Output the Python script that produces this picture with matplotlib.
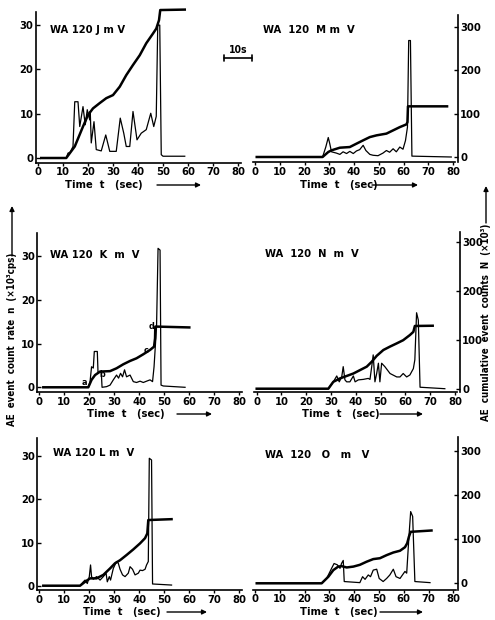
import matplotlib
matplotlib.use("Agg")
import matplotlib.pyplot as plt

plt.rcParams["font.family"] = ["DejaVu Sans"]
plt.rcParams["font.weight"] = "bold"
plt.rcParams["font.stretch"] = "condensed"

# ── Data ─────────────────────────────────────────────────────
# time in sec, count rate n in x10^3 cps, cumulative N in x10^3

J_t = [1.3, 11.3, 12.0, 12.9, 14.0, 14.7, 16.0, 16.7, 18.0, 18.9, 19.7, 20.7, 20.9,
       21.3, 22.4, 23.3, 25.3, 27.1, 28.7, 31.3, 32.9, 34.3, 35.3, 36.7, 38.0, 39.6,
       41.3, 43.3, 45.1, 46.3, 47.3, 47.9, 48.7, 49.3, 50.0, 58.7]
J_n = [0, 0, 1.1, 1.3, 2.6, 12.7, 12.7, 7.1, 11.6, 7.5, 10.9, 8.6, 10.5,
       3.4, 8.2, 1.9, 1.6, 5.2, 1.5, 1.5, 9.0, 5.6, 2.6, 2.6, 10.5, 4.1,
       5.6, 6.4, 10.1, 7.1, 9.4, 30.0, 30.0, 0.75, 0.4, 0.4]
J_ct = [1.3, 11.3, 14.7, 18.0, 20.0, 22.0, 24.7, 27.3, 30.0, 32.7, 35.3, 38.0,
        40.7, 43.3, 46.0, 47.3, 48.4, 48.9, 58.7]
J_N = [0, 0, 26, 71, 97, 112, 124, 135, 142, 161, 187, 210,
       232, 259, 281, 292, 311, 334, 335]

M_t = [0.7, 27.3, 28.6, 29.6, 30.2, 30.9, 32.9, 34.3, 35.6, 37.0, 38.3, 39.7, 41.0,
       42.3, 43.7, 44.8, 46.4, 47.7, 49.7, 51.7, 53.1, 54.4, 55.8, 57.1, 58.5, 59.8,
       60.8, 61.6, 62.1, 62.8, 63.4, 79.3]
M_n = [0, 0, 2.3, 4.5, 3.1, 1.2, 0.9, 0.6, 1.2, 0.8, 1.3, 0.8, 1.4,
       1.7, 2.7, 1.5, 0.6, 0.4, 0.3, 0.9, 1.5, 1.1, 1.9, 1.2, 2.3, 1.8,
       3.8, 6.9, 26.9, 26.9, 0.2, 0]
M_ct = [0.7, 27.3, 29.6, 30.9, 34.3, 38.3, 41.0, 43.7, 46.4, 49.1, 53.1, 55.8,
        58.5, 61.2, 61.6, 61.8, 77.6]
M_N = [0, 0, 11.5, 15.4, 21.5, 23, 30.8, 38.5, 46, 50, 54, 61.5,
       69, 75.4, 80.7, 117, 117]

K_t = [1.6, 19.6, 20.3, 20.9, 21.6, 22.0, 23.2, 23.5, 24.3, 24.8, 25.1, 26.9, 28.3,
       29.6, 30.9, 31.7, 32.5, 33.3, 34.1, 34.9, 36.3, 37.6, 38.9, 40.3, 41.6, 42.9,
       44.3, 45.3, 45.9, 46.4, 46.9, 47.5, 48.3, 48.7, 49.6, 58.3]
K_n = [0, 0, 1.3, 4.7, 4.4, 8.2, 8.2, 3.2, 3.6, 3.4, 0, 0.15, 0.5,
       1.7, 2.8, 2.1, 3.2, 2.4, 4.0, 2.4, 2.8, 1.3, 1.1, 1.4, 1.1, 1.4,
       1.7, 1.3, 4.7, 9.3, 13.9, 31.8, 31.4, 0.5, 0.3, 0]
K_ct = [1.6, 19.6, 20.9, 22.3, 24.3, 28.3, 30.9, 33.6, 36.3, 38.9, 41.6, 44.3,
        45.9, 46.3, 46.4, 60.0]
K_N = [0, 0, 17, 28, 36, 37, 43.5, 52.7, 60.3, 66.4, 75.6, 85.5,
       93, 112, 139, 137]
K_marks = ["a", "b", "c", "d"]
K_mark_t = [17.9, 25.3, 42.7, 45.0]
K_mark_n = [1.1, 3.0, 8.4, 14.0]

N_t = [0, 28.9, 30.9, 32.3, 33.3, 34.3, 34.9, 35.6, 36.3, 37.6, 39.0, 39.7, 41.0,
       43.0, 45.0, 45.7, 46.4, 47.0, 47.7, 48.4, 49.1, 49.7, 50.4, 51.7, 53.8, 56.5,
       57.8, 59.1, 60.5, 61.8, 63.2, 63.8, 64.5, 65.2, 65.9, 75.9]
N_n = [0, 0, 1.4, 2.6, 1.4, 2.4, 4.5, 1.8, 1.4, 1.4, 2.6, 1.4, 1.8,
       1.9, 2.1, 1.9, 4.5, 6.9, 1.4, 3.1, 5.2, 1.4, 5.2, 4.5, 3.1, 2.4,
       2.4, 3.1, 2.4, 2.8, 4.1, 5.9, 15.5, 14.0, 0.3, 0]
N_ct = [0, 28.9, 30.9, 33.6, 36.3, 39.0, 41.7, 44.4, 46.4, 48.4, 51.1, 53.8,
        56.5, 59.1, 61.8, 63.2, 63.8, 71.0]
N_N = [0, 0, 14, 21, 26, 31, 38, 45, 55, 67, 79, 86,
       92.5, 99, 109.5, 116, 128, 128.5]

L_t = [1.6, 16.3, 17.6, 18.3, 19.2, 20.0, 20.5, 20.9, 21.6, 22.9, 24.3, 25.6, 26.7,
       27.2, 28.0, 28.5, 29.6, 30.9, 31.6, 32.3, 33.3, 34.3, 35.6, 36.3, 37.3, 38.3,
       39.6, 40.3, 41.3, 42.3, 42.9, 43.6, 44.0, 44.9, 45.3, 52.9]
L_n = [0, 0, 0.9, 1.3, 0.5, 2.1, 4.8, 2.1, 1.5, 2.1, 1.3, 2.1, 2.9,
       0.9, 2.1, 1.3, 4.0, 5.6, 5.2, 3.8, 2.5, 2.1, 2.9, 4.4, 3.8, 2.5,
       2.9, 3.6, 3.5, 3.8, 4.8, 5.6, 29.5, 29.1, 0.4, 0.15]
L_ct = [1.6, 16.3, 18.3, 20.3, 22.9, 25.6, 28.3, 30.3, 32.3, 34.9, 37.6, 40.3,
        42.3, 43.2, 43.6, 52.9]
L_N = [0, 0, 9, 17, 17, 25, 40, 52, 59, 71, 84, 98,
       110, 121, 152, 154]

O_t = [0.7, 26.9, 28.9, 30.9, 31.9, 33.2, 34.3, 34.9, 35.6, 36.0, 42.3, 43.4, 44.4,
       45.7, 46.6, 47.7, 49.1, 50.1, 51.7, 53.1, 54.4, 55.8, 56.9, 58.5, 60.5, 61.2,
       62.1, 62.8, 63.6, 64.5, 70.6]
O_n = [0, 0, 1.1, 3.4, 4.5, 4.2, 3.4, 4.5, 5.2, 0.4, 0.15, 1.5, 0.9,
       1.9, 1.5, 3.0, 3.2, 1.1, 0.4, 1.1, 1.9, 3.2, 1.5, 1.1, 2.7, 2.3,
       10.6, 16.3, 15.2, 0.4, 0.15]
O_ct = [0.7, 26.9, 29.6, 31.6, 33.6, 34.9, 37.0, 39.7, 42.3, 45.0, 47.7, 50.4,
        53.1, 55.8, 58.5, 60.5, 61.4, 62.1, 62.8, 71.2]
O_N = [0, 0, 15, 30, 38, 39, 36, 38, 42, 49, 55, 57,
       64, 70, 74, 82, 91, 106, 117, 120]

x_ticks = [0, 10, 20, 30, 40, 50, 60, 70, 80]
rate_ticks = [0, 10, 20, 30]
cum_ticks = [0, 100, 200, 300]

# ── Layout helpers (pixel geometry of the scan) ───────────────
W, H = 495, 620
fig = plt.figure(figsize=(W / 100, H / 100), dpi=100)


def px_rect(x0, x80, y0, ppu, ylim, xlim=(-1, 81)):
    """axes rect from: pixel x of t=0 / t=80, pixel y of n=0, px per rate unit"""
    sx = (x80 - x0) / 80.0
    left = x0 + xlim[0] * sx
    right = x0 + xlim[1] * sx
    top = y0 - ylim[1] * ppu
    bottom = y0 - ylim[0] * ppu
    return [left / W, 1 - bottom / H, (right - left) / W, (bottom - top) / H]


def arrow(x0, y0, x1, y1):
    plt.annotate("", xy=(x1, H - y1), xytext=(x0, H - y0),
                 xycoords="figure pixels", textcoords="figure pixels",
                 arrowprops=dict(arrowstyle="-|>", lw=1.0, color="k",
                                 mutation_scale=7, shrinkA=0, shrinkB=0))


def panel(geom, ylim, t, n, ct, N, side, title, title_xy, time_xy, arrow_x):
    ax = fig.add_axes(px_rect(*geom, ylim))
    ax.set_xlim(-1, 81)
    ax.set_ylim(*ylim)
    ax2 = ax.twinx()
    ax2.set_ylim(ylim[0] * 10, ylim[1] * 10)

    ax.plot(t, n, color="k", lw=0.9, clip_on=False, zorder=3)
    ax2.plot(ct, N, color="k", lw=1.8, clip_on=False, zorder=3)

    for a in (ax, ax2):
        a.patch.set_visible(False)
        for s in ("top", "left", "right"):
            a.spines[s].set_visible(False)
    ax2.spines["bottom"].set_visible(False)
    ax.spines["bottom"].set_linewidth(1.2)

    ax.set_xticks(x_ticks)
    ax.tick_params(axis="x", direction="out", length=2.5, width=1, pad=0.8,
                   labelsize=8)
    if side == "left":
        ax.spines["left"].set_visible(True)
        ax.spines["left"].set_linewidth(1.2)
        ax.set_yticks(rate_ticks)
        ax.tick_params(axis="y", direction="in", length=3, width=1, pad=1.5,
                       labelsize=8)
        ax2.set_yticks([])
    else:
        ax.set_yticks([])
        ax2.spines["right"].set_visible(True)
        ax2.spines["right"].set_linewidth(1.2)
        ax2.spines["right"].set_position(("data", 82))
        ax2.set_yticks(cum_ticks)
        ax2.tick_params(axis="y", direction="in", length=3, width=1, pad=1.5,
                        labelsize=8)

    fig.text(title_xy[0] / W, 1 - title_xy[1] / H, title, fontsize=8,
             ha="left", va="center")
    fig.text(time_xy[0] / W, 1 - time_xy[1] / H, "Time  t   (sec)",
             fontsize=8, ha="left", va="center")
    arrow(arrow_x[0], time_xy[1], arrow_x[1], time_xy[1])
    return ax, ax2


panel((38, 238, 158, 4.43), (-1.1, 33), J_t, J_n, J_ct, J_N, "left",
      "WA 120 J m V", (50, 30), (65, 185), (157, 201))
panel((255, 453, 157, 4.33), (-1.2, 32.8), M_t, M_n, M_ct, M_N, "right",
      "WA  120  M m  V", (263, 30), (300, 185), (372, 418))
axK, _ = panel((39.3, 239.3, 387.3, 4.37), (-1.1, 35.3), K_t, K_n, K_ct, K_N, "left",
               "WA 120  K  m  V", (50, 255), (87, 414), (177, 212))
panel((256.7, 455, 388.7, 4.9), (-0.7, 32), N_t, N_n, N_ct, N_N, "right",
      "WA  120  N  m  V", (265, 254), (302, 414), (380, 423))
panel((39.3, 239.3, 585.7, 4.32), (-1.0, 34.2), L_t, L_n, L_ct, L_N, "left",
      "WA 120 L m  V", (53, 453), (83, 612), (167, 207))
panel((255, 453.3, 583.3, 4.4), (-1.5, 33.2), O_t, O_n, O_ct, O_N, "right",
      "WA  120   O   m   V", (265, 455), (300, 612), (380, 423))

for m, mt, mn in zip(K_marks, K_mark_t, K_mark_n):
    axK.text(mt, mn, m, fontsize=6.5, ha="center", va="center", zorder=4)

# 10 s scale bar
fig.text(238 / W, 1 - 50 / H, "10s", fontsize=7.5, ha="center", va="center")
plt.annotate("", xy=(252, H - 58), xytext=(224, H - 58),
             xycoords="figure pixels", textcoords="figure pixels",
             arrowprops=dict(arrowstyle="|-|,widthA=0.25,widthB=0.25", lw=1.2,
                             color="k", shrinkA=0, shrinkB=0))

# vertical axis titles
fig.text(12 / W, 1 - 339 / H, "AE  event  count  rate  n  (×10³cps)",
         rotation=90, fontsize=7, ha="center", va="center")
arrow(12, 256, 12, 206)
fig.text(486 / W, 1 - 322 / H, "AE  cumulative  event  counts  N  (×10³)",
         rotation=90, fontsize=7, ha="center", va="center")
arrow(486, 223, 486, 186)

fig.savefig("out.png", dpi=100)
